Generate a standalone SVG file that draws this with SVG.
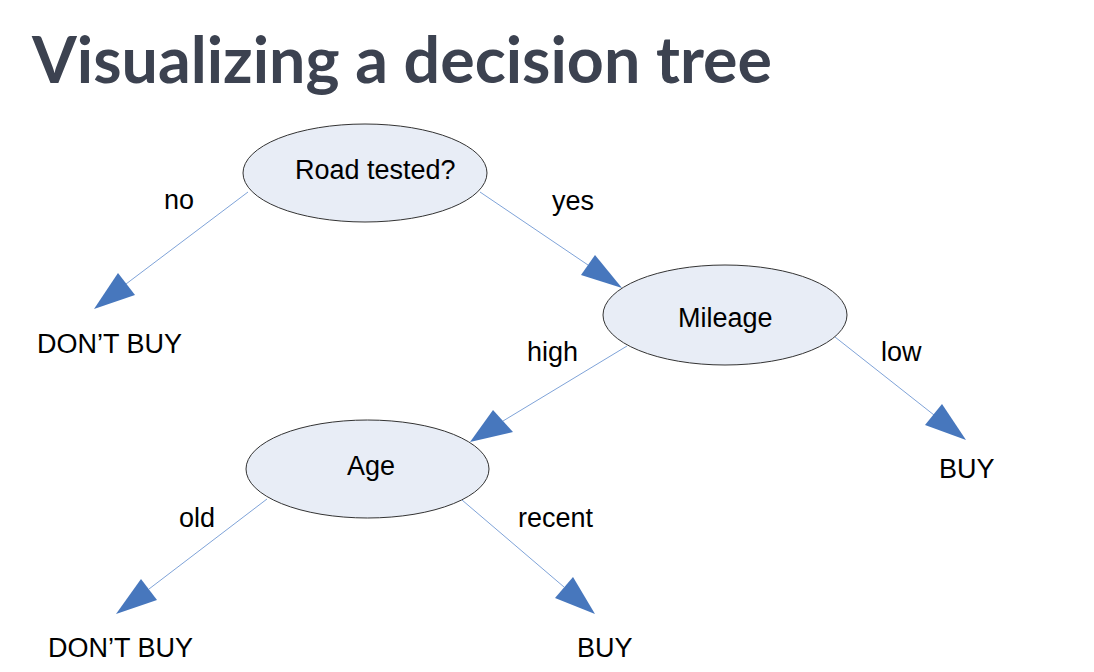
<svg xmlns="http://www.w3.org/2000/svg" width="1094" height="672" viewBox="0 0 1094 672">
<style>
.title{font-family:Lato,"Liberation Sans",sans-serif;font-weight:bold;font-size:64.5px;fill:#3c4250}
.t{font-family:"Liberation Sans",Arial,sans-serif;font-size:27px;fill:#000}
.node{fill:#e8edf6;stroke:#333;stroke-width:1}
.edge{stroke:#7fa3d8;stroke-width:1;fill:none}
.head{fill:#4777bd;stroke:none}
</style>
<rect width="1094" height="672" fill="#fff"/>
<text class="title" x="32" y="83">Visualizing a decision tree</text>
<g id="connectors">
  <line class="edge" x1="248" y1="192" x2="126" y2="284"/>
  <polygon class="head" points="118,273 135,295 94,309"/>
  <line class="edge" x1="480" y1="192" x2="588" y2="265"/>
  <polygon class="head" points="595,255 581,275 622,288"/>
  <line class="edge" x1="627" y1="346" x2="503" y2="421"/>
  <polygon class="head" points="493,410 513,432 470,442"/>
  <line class="edge" x1="835" y1="337" x2="934" y2="415"/>
  <polygon class="head" points="942,404 925,425 966,440"/>
  <line class="edge" x1="267" y1="499" x2="149" y2="589"/>
  <polygon class="head" points="141,579 157,600 116,614"/>
  <line class="edge" x1="462" y1="500" x2="564" y2="587"/>
  <polygon class="head" points="573,577 555,598 595,614"/>
  <text class="t" x="164" y="209">no</text>
  <text class="t" x="552" y="210">yes</text>
  <text class="t" x="527" y="361">high</text>
  <text class="t" x="881" y="361">low</text>
  <text class="t" x="179" y="527">old</text>
  <text class="t" x="518" y="527">recent</text>
</g>
<g id="road-tested">
  <ellipse class="node" cx="365" cy="173" rx="122" ry="49"/>
  <text class="t" x="295" y="179">Road tested?</text>
</g>
<g id="mileage">
  <ellipse class="node" cx="725" cy="315" rx="122" ry="50"/>
  <text class="t" x="678" y="327">Mileage</text>
</g>
<g id="age">
  <ellipse class="node" cx="367.5" cy="469" rx="121.5" ry="49"/>
  <text class="t" x="347" y="475">Age</text>
</g>
<g id="dont-buy-1">
  <text class="t" x="37" y="353">DON’T BUY</text>
</g>
<g id="buy-1">
  <text class="t" x="939" y="478">BUY</text>
</g>
<g id="dont-buy-2">
  <text class="t" x="48" y="657">DON’T BUY</text>
</g>
<g id="buy-2">
  <text class="t" x="577" y="657">BUY</text>
</g>
</svg>
